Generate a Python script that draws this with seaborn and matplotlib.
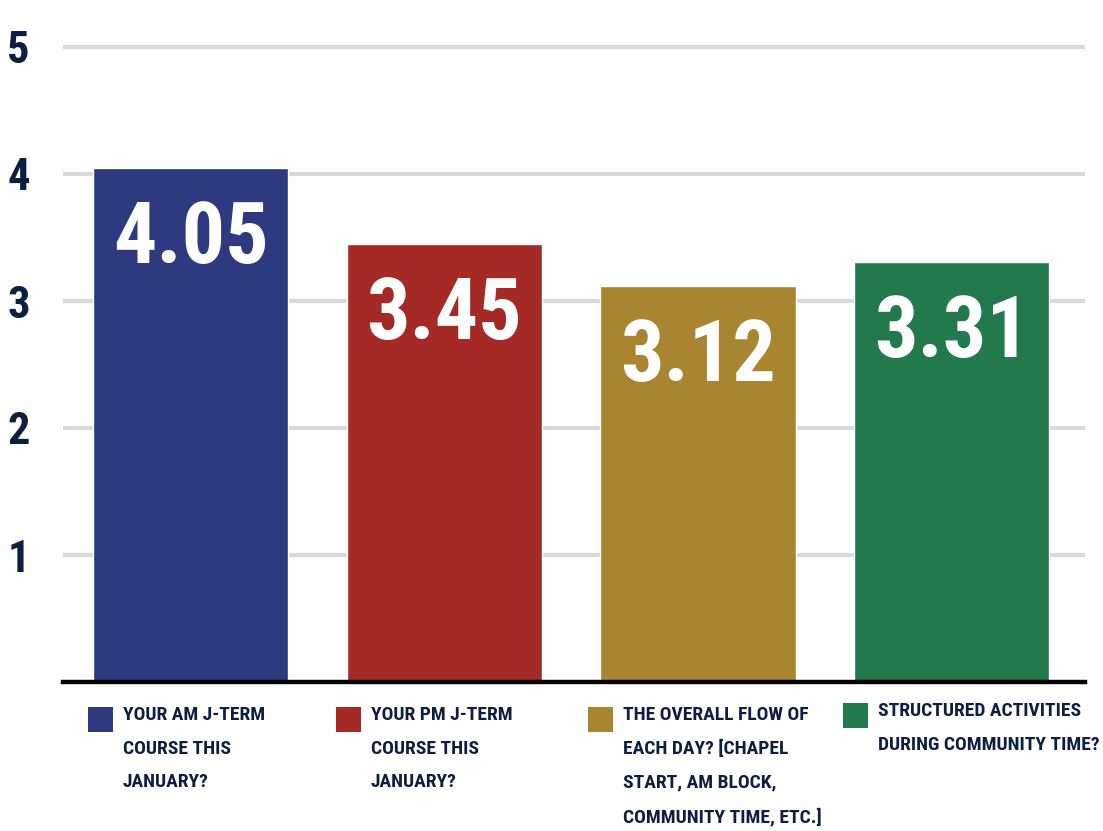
import matplotlib
matplotlib.use("Agg")
import matplotlib.pyplot as plt
from matplotlib import font_manager as fm
from matplotlib.patches import Rectangle
import seaborn as sns
import pandas as pd

categories = [
    "YOUR AM J-TERM\nCOURSE THIS\nJANUARY?",
    "YOUR PM J-TERM\nCOURSE THIS\nJANUARY?",
    "THE OVERALL FLOW OF\nEACH DAY? [CHAPEL\nSTART, AM BLOCK,\nCOMMUNITY TIME, ETC.]",
    "STRUCTURED ACTIVITIES\nDURING COMMUNITY TIME?",
]
values = [4.05, 3.45, 3.12, 3.31]
value_labels = ["4.05", "3.45", "3.12", "3.31"]
colors = ["#2E3A80", "#A52A25", "#A98532", "#227A4C"]
y_ticks = [1, 2, 3, 4, 5]
y_tick_labels = ["1", "2", "3", "4", "5"]

sns.set_theme(style="white")

# pick a condensed font
fonts = fm.fontManager.ttflist
names = {f.name for f in fonts}
family = "DejaVu Sans"
stretch = "normal"
for cand in ["Roboto Condensed", "Liberation Sans Narrow", "Open Sans Condensed"]:
    if cand in names:
        family = cand
        break
else:
    if any(f.name == "DejaVu Sans" and f.stretch == "condensed" for f in fonts):
        stretch = "condensed"
plt.rcParams["font.family"] = [family, "DejaVu Sans"]
plt.rcParams["font.stretch"] = stretch

W, H = 1103, 831
fig = plt.figure(figsize=(W / 100, H / 100), dpi=100)
ymax = 5.05
x0, x1 = 63, 1085
y0, y5 = 682, 47
hpx = (y0 - y5) * ymax / 5
ax = fig.add_axes([x0 / W, (H - y0) / H, (x1 - x0) / W, hpx / H])

df = pd.DataFrame({"cat": categories, "val": values})
sns.barplot(data=df, x="cat", y="val", hue="cat", palette=colors,
            width=0.77, saturation=1, legend=False, ax=ax, zorder=2)

ax.set_ylim(0, ymax)
ax.set_xlim(-0.503, 3.526)
ax.set_yticks(y_ticks)
ax.set_yticklabels(y_tick_labels, fontsize=32, fontweight="bold", color="#0D1F40")
ax.tick_params(axis="y", length=0, pad=24)
ax.set_xticks([])
ax.set_xlabel("")
ax.set_ylabel("")
ax.yaxis.grid(True, color="#D9D9D9", lw=3)
ax.set_axisbelow(True)
for s in ["top", "right", "left"]:
    ax.spines[s].set_visible(False)
ax.spines["bottom"].set_color("black")
ax.spines["bottom"].set_linewidth(3.2)
ax.spines["bottom"].set_zorder(5)

for i, (v, lab) in enumerate(zip(values, value_labels)):
    ax.text(i, v - 0.565, lab, ha="center", va="center", color="white",
            fontsize=62, fontweight="bold", zorder=4)

# legend entries below the plot
patch_left = [88, 336, 588, 843]
for i, (cat, col) in enumerate(zip(categories, colors)):
    px = patch_left[i]
    top = 707 if i < 3 else 703
    fig.patches.append(Rectangle((px / W, (H - top - 25) / H), 25 / W, 25 / H,
                                 transform=fig.transFigure, facecolor=col,
                                 edgecolor="none"))
    fig.text((px + 35) / W, (H - top + 1) / H, cat, ha="left", va="top",
             fontsize=14, fontweight="bold", color="#0D1F40", linespacing=2.12)

fig.savefig("out.png", dpi=100, facecolor="white")
